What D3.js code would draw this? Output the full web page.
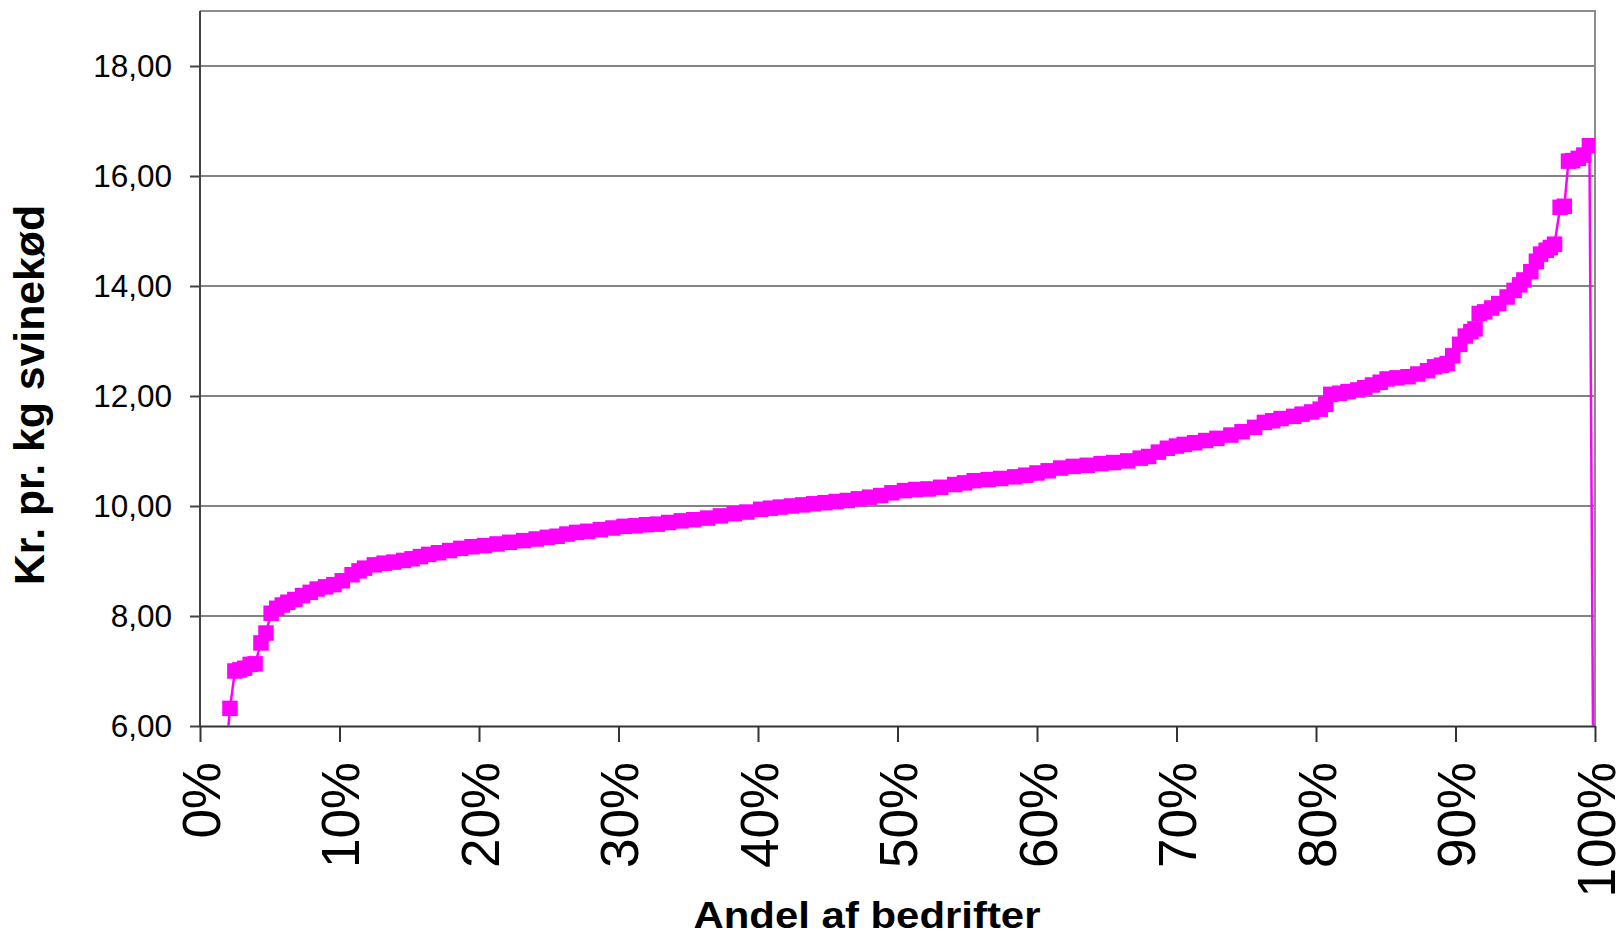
<!DOCTYPE html>
<html lang="da">

<head>
    <meta charset="UTF-8">
    <script src="https://d3js.org/d3.v7.min.js"></script>
    <title>Kr. pr. kg svinekød</title>
    <style>
        body { margin: 0; background: #fff; }
        svg { display: block; font-family: "Liberation Sans", Arial, sans-serif; }
    </style>
</head>

<body>
    <div id="container"></div>

    <script type="text/javascript">

        // share of farms (%) and price per kg
        const andel = [0, 2.15, 2.5, 2.85, 3.2, 3.6, 3.95, 4.37, 4.73, 5.1, 5.5, 5.9, 6.3, 6.8, 7.35, 7.9, 8.4, 9.0, 9.6, 10.2,
            10.9, 11.4, 11.8, 12.5, 13.2, 13.9, 14.6, 15.2, 15.8, 16.4, 17.1, 17.9, 18.7, 19.5, 20.4, 21.3, 22.2, 23.2, 24.1, 24.9,
            25.6, 26.3, 27.0, 27.8, 28.7, 29.6, 30.4, 31.2, 32.0, 32.8, 33.6, 34.5, 35.4, 36.4, 37.3, 38.3, 39.2, 40.2, 40.9, 41.6,
            42.4, 43.2, 44.0, 44.8, 45.6, 46.4, 47.2, 48.0, 48.8, 49.6, 50.5, 51.3, 52.2, 53.1, 54.1, 54.8, 55.5, 56.5, 57.4, 58.4,
            59.2, 60.0, 60.8, 61.7, 62.6, 63.6, 64.6, 65.5, 66.5, 67.4, 68.0, 68.7, 69.35, 70.0, 70.55, 71.3, 72.1, 72.9, 73.9, 74.7,
            75.6, 76.3, 76.9, 77.5, 78.4, 79.0, 79.7, 80.3, 80.7, 81.06, 81.7, 82.3, 83.0, 83.5, 84.05, 84.6, 85.1, 85.8, 86.6, 87.3,
            88.0, 88.5, 89.0, 89.4, 89.8, 90.3, 90.7, 91.1, 91.4, 91.7, 92.1, 92.6, 93.1, 93.7, 94.2, 94.6, 94.9, 95.4, 95.8, 96.1,
            96.5, 96.8, 97.1, 97.5, 97.8, 98.1, 98.4, 98.8, 99.2, 99.6, 100];

        const kr = [0, 6.32, 7.0, 7.02, 7.05, 7.12, 7.13, 7.51, 7.69, 8.05, 8.14, 8.2, 8.25, 8.3, 8.37, 8.43, 8.49, 8.53, 8.57, 8.64,
            8.75, 8.82, 8.87, 8.93, 8.96, 8.98, 9.01, 9.04, 9.08, 9.12, 9.15, 9.19, 9.23, 9.26, 9.28, 9.31, 9.34, 9.37, 9.4, 9.43,
            9.45, 9.49, 9.52, 9.54, 9.57, 9.6, 9.63, 9.64, 9.66, 9.67, 9.7, 9.73, 9.75, 9.78, 9.82, 9.86, 9.89, 9.94, 9.96, 9.98,
            10.0, 10.02, 10.04, 10.06, 10.08, 10.1, 10.13, 10.16, 10.19, 10.24, 10.28, 10.3, 10.31, 10.34, 10.39, 10.42, 10.46, 10.48, 10.5, 10.53,
            10.56, 10.6, 10.64, 10.69, 10.72, 10.74, 10.77, 10.79, 10.82, 10.87, 10.9, 10.98, 11.05, 11.09, 11.12, 11.15, 11.19, 11.23, 11.29, 11.35,
            11.43, 11.52, 11.55, 11.59, 11.63, 11.67, 11.71, 11.76, 11.85, 12.03, 12.05, 12.08, 12.11, 12.15, 12.2, 12.25, 12.31, 12.33, 12.35, 12.4,
            12.46, 12.53, 12.56, 12.59, 12.73, 12.94, 13.09, 13.17, 13.22, 13.5, 13.53, 13.6, 13.68, 13.8, 13.92, 14.02, 14.11, 14.26, 14.45, 14.58,
            14.65, 14.7, 14.76, 15.43, 15.45, 16.27, 16.28, 16.32, 16.38, 16.55, 0];

        const yTicks = [6, 8, 10, 12, 14, 16, 18];
        const xTicks = [0, 10, 20, 30, 40, 50, 60, 70, 80, 90, 100];

        const dataset = andel.map((a, i) => ({ andel: a, kr: kr[i] }));

        const w = 1621, h = 936;
        const margin = { left: 200, right: 26, top: 11, bottom: 210 };

        const svg = d3.select("#container")
            .append("svg")
            .attr("width", w)
            .attr("height", h);

        const xScale = d3.scaleLinear()
            .domain([0, 100])
            .range([margin.left, w - margin.right]);

        const yScale = d3.scaleLinear()
            .domain([6, 19])
            .range([h - margin.bottom, margin.top]);

        const fmt = d => d3.format(".2f")(d).replace(".", ",");

        // gridlines
        svg.append("g")
            .selectAll("line")
            .data(yTicks.slice(1))
            .enter()
            .append("line")
            .attr("x1", xScale(0))
            .attr("x2", xScale(100))
            .attr("y1", d => yScale(d))
            .attr("y2", d => yScale(d))
            .style("stroke", "#5a5a5a")
            .style("stroke-width", 1.6);

        // plot frame top / right
        svg.append("path")
            .attr("d", "M" + xScale(0) + "," + yScale(19) + "H" + xScale(100) + "V" + yScale(6))
            .style("fill", "none")
            .style("stroke", "#8c8c8c")
            .style("stroke-width", 2);

        const yAxis = d3.axisLeft(yScale)
            .tickValues(yTicks)
            .tickSize(10)
            .tickSizeOuter(0)
            .tickPadding(18)
            .tickFormat(fmt);

        const gy = svg.append("g")
            .attr("transform", "translate(" + xScale(0) + ",0)")
            .call(yAxis);
        gy.select(".domain").attr("d", "M0," + yScale(6) + "V" + yScale(19));
        gy.selectAll("text").style("font-size", "31.5px").style("font-family", "inherit").attr("fill", "#000");
        gy.selectAll("line, .domain").style("stroke", "#444").style("stroke-width", 2);

        const xAxis = d3.axisBottom(xScale)
            .tickValues(xTicks)
            .tickSize(16)
            .tickSizeOuter(0)
            .tickFormat(d => d + "%");

        const gx = svg.append("g")
            .attr("transform", "translate(0," + yScale(6) + ")")
            .call(xAxis);
        gx.selectAll("line, .domain").style("stroke", "#333").style("stroke-width", 2);
        gx.selectAll("text")
            .style("font-size", "53px")
            .style("font-family", "inherit")
            .attr("fill", "#000")
            .attr("text-anchor", "end")
            .attr("dy", null)
            .attr("x", 0)
            .attr("y", 0)
            .attr("transform", "translate(0,36) rotate(-90) translate(0,19)");

        // series, clipped to the plot area
        svg.append("clipPath")
            .attr("id", "plotclip")
            .append("rect")
            .attr("x", xScale(0))
            .attr("y", yScale(19))
            .attr("width", xScale(100) - xScale(0))
            .attr("height", yScale(6) - yScale(19));

        const series = svg.append("g").attr("clip-path", "url(#plotclip)");

        const line = d3.line()
            .x(d => xScale(d.andel))
            .y(d => yScale(d.kr));

        series.append("path")
            .datum(dataset)
            .attr("d", line)
            .style("fill", "none")
            .style("stroke", "#ff00ff")
            .style("stroke-width", 2.5);

        const size = 15.5;
        series.selectAll("rect")
            .data(dataset)
            .enter()
            .append("rect")
            .attr("x", d => xScale(d.andel) - size / 2)
            .attr("y", d => yScale(d.kr) - size / 2)
            .attr("width", size)
            .attr("height", size)
            .style("fill", "#ff00ff");

        // axis titles
        svg.append("text")
            .attr("transform", "translate(44," + 395 + ") rotate(-90)")
            .attr("text-anchor", "middle")
            .attr("textLength", 380)
            .attr("lengthAdjust", "spacingAndGlyphs")
            .style("font-size", "43px")
            .style("font-weight", "bold")
            .text("Kr. pr. kg svinekød");

        svg.append("text")
            .attr("x", 867)
            .attr("y", 928)
            .attr("text-anchor", "middle")
            .attr("textLength", 347)
            .attr("lengthAdjust", "spacingAndGlyphs")
            .style("font-size", "37px")
            .style("font-weight", "bold")
            .text("Andel af bedrifter");

    </script>
</body>

</html>
